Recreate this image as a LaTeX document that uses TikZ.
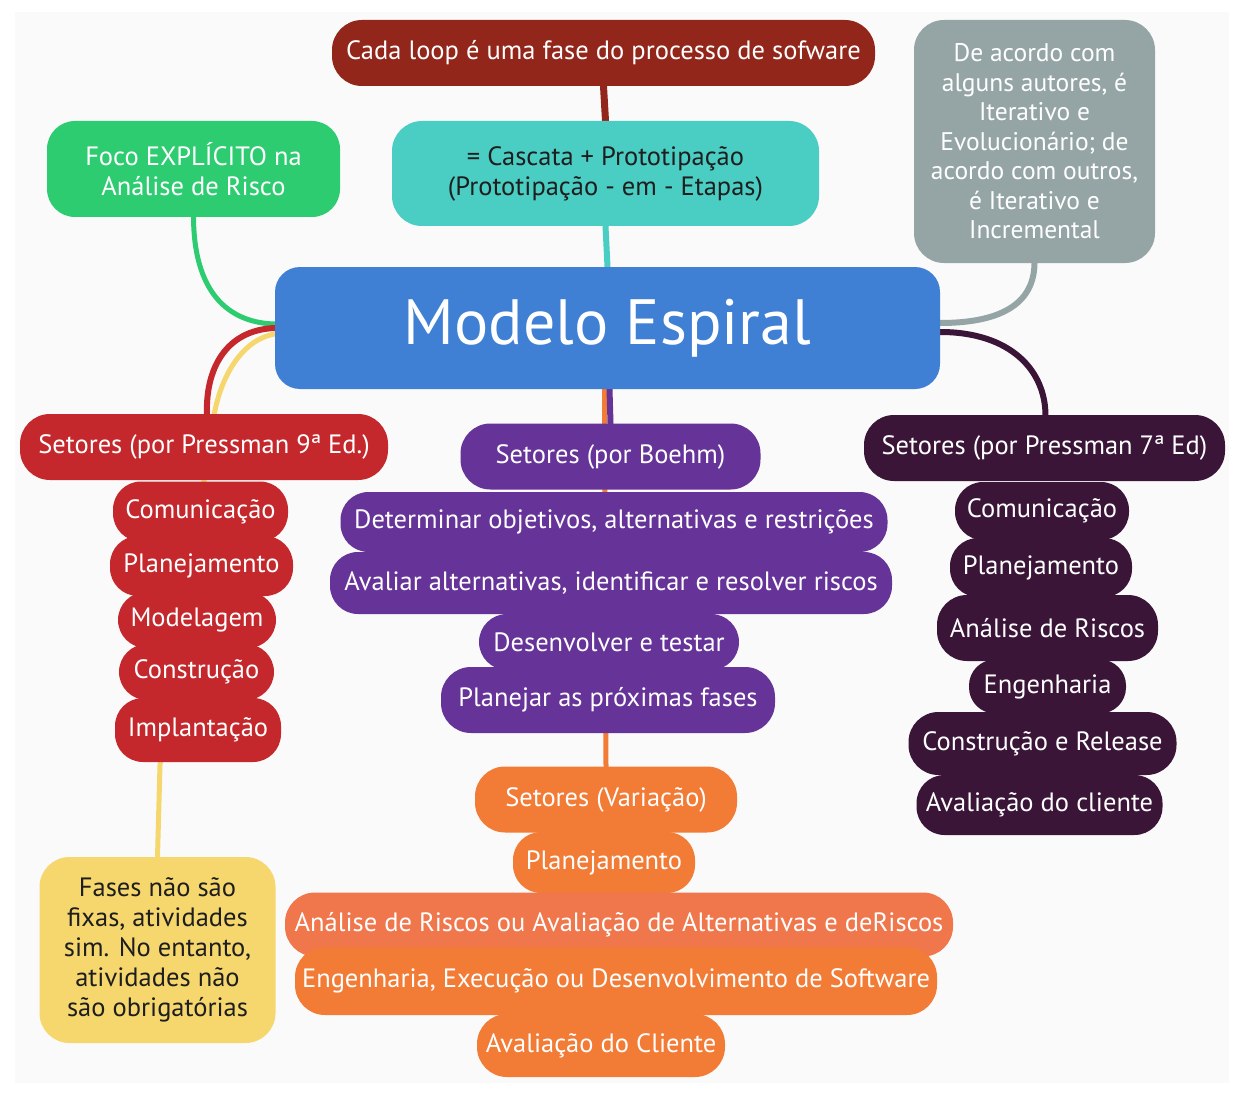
\documentclass[tikz,border=0pt]{standalone}
\usepackage{fontspec}
\setmainfont{PT Sans}
\usetikzlibrary{calc}
\definecolor{cBg}{HTML}{FAFAFA}
\definecolor{cLoop}{HTML}{92261A}
\definecolor{cTeal}{HTML}{4ACDC2}
\definecolor{cGreen}{HTML}{2ECC71}
\definecolor{cGray}{HTML}{95A5A6}
\definecolor{cBlue}{HTML}{3F80D5}
\definecolor{cRed}{HTML}{C4282C}
\definecolor{cPurple}{HTML}{663399}
\definecolor{cDark}{HTML}{3A1538}
\definecolor{cOrange}{HTML}{F27B35}
\definecolor{cSalmon}{HTML}{F0764C}
\definecolor{cYellow}{HTML}{F5D76E}
\definecolor{cInk}{HTML}{1E1E1E}
\pgfdeclarelayer{bg}
\pgfdeclarelayer{edges}
\pgfsetlayers{bg,edges,main}
\tikzset{
  box/.style={fill=#1, rounded corners=28pt, inner sep=0pt, text=white, align=center,
    font=\fontsize{26.5}{30}\selectfont},
  link/.style={draw=#1, line width=6pt, line cap=round},
}
\begin{document}
\begin{tikzpicture}[x=1pt,y=-1pt]
\useasboundingbox (0,0) rectangle (1242,1094);
\begin{pgfonlayer}{bg}
\fill[white] (0,0) rectangle (1242,1094);
\fill[cBg] (15,12) rectangle (1229,1083);
\end{pgfonlayer}

% top
\node[box=cLoop, minimum width=543pt, minimum height=66pt, rounded corners=30pt] (loop) at (603.5,53) {Cada loop é uma fase do processo de sofware};
\node[box=cTeal, text=cInk, minimum width=427pt, minimum height=105pt, rounded corners=30pt] (proto) at (605.5,173.5) {= Cascata + Prototipação\\(Prototipação - em - Etapas)};
\node[box=cGreen, minimum width=293pt, minimum height=96pt, rounded corners=28pt] (foco) at (193.5,169) {Foco EXPLÍCITO na\\Análise de Risco};
\node[box=cGray, minimum width=241pt, minimum height=243pt, rounded corners=30pt, font=\fontsize{25.5}{29.5}\selectfont] (autores) at (1034.5,141.5) {De acordo com\\alguns autores, é\\Iterativo e\\Evolucionário; de\\acordo com outros,\\é Iterativo e\\Incremental};
\node[box=cBlue, minimum width=665pt, minimum height=122pt, rounded corners=25pt, font=\fontsize{64}{70}\selectfont] (modelo) at (607.5,328) {Modelo Espiral};

% Pressman 9
\node[box=cRed, minimum width=368pt, minimum height=66pt, rounded corners=30pt] (pnove) at (204,447) {Setores (por Pressman 9ª Ed.)};
\node[box=cRed, minimum width=175pt, minimum height=60pt] (pnoveA) at (200.5,511.5) {Comunicação};
\node[box=cRed, minimum width=183pt, minimum height=60pt] (pnoveB) at (201.5,566) {Planejamento};
\node[box=cRed, minimum width=158pt, minimum height=56pt] (pnoveC) at (197,620) {Modelagem};
\node[box=cRed, minimum width=155pt, minimum height=56pt] (pnoveD) at (196.5,672) {Construção};
\node[box=cRed, minimum width=166pt, minimum height=64pt] (pnoveE) at (198,730) {Implantação};

% Boehm
\node[box=cPurple, minimum width=300pt, minimum height=66pt, rounded corners=30pt] (boehm) at (610.5,456.5) {Setores (por Boehm)};
\node[box=cPurple, minimum width=547pt, minimum height=60pt] (boehmA) at (614,522) {Determinar objetivos, alternativas e restrições};
\node[box=cPurple, minimum width=562pt, minimum height=62pt] (boehmB) at (611,583) {Avaliar alternativas, identificar e resolver riscos};
\node[box=cPurple, minimum width=260pt, minimum height=56pt] (boehmC) at (609,642) {Desenvolver e testar};
\node[box=cPurple, minimum width=334pt, minimum height=66pt, rounded corners=30pt] (boehmD) at (608,700) {Planejar as próximas fases};

% Pressman 7
\node[box=cDark, minimum width=361pt, minimum height=66pt, rounded corners=30pt] (psete) at (1044.5,448) {Setores (por Pressman 7ª Ed)};
\node[box=cDark, minimum width=174pt, minimum height=58pt] (pseteA) at (1042,511) {Comunicação};
\node[box=cDark, minimum width=182pt, minimum height=59pt] (pseteB) at (1041,567.5) {Planejamento};
\node[box=cDark, minimum width=221pt, minimum height=66pt, rounded corners=30pt] (pseteC) at (1047.5,628) {Análise de Riscos};
\node[box=cDark, minimum width=157pt, minimum height=54pt, rounded corners=26pt] (pseteD) at (1047.5,686.5) {Engenharia};
\node[box=cDark, minimum width=268pt, minimum height=63pt, rounded corners=30pt] (pseteE) at (1042.5,743.5) {Construção e Release};
\node[box=cDark, minimum width=246pt, minimum height=60pt] (pseteF) at (1039.5,805) {Avaliação do cliente};

% Variacao
\node[box=cOrange, minimum width=262pt, minimum height=66pt, rounded corners=30pt] (var) at (606,799.5) {Setores (Variação)};
\node[box=cOrange, minimum width=182pt, minimum height=61pt] (varA) at (604,862.5) {Planejamento};
\node[box=cSalmon, minimum width=668pt, minimum height=64pt, rounded corners=30pt] (varB) at (619,924.5) {Análise de Riscos ou Avaliação de Alternativas e deRiscos};
\node[box=cOrange, minimum width=642pt, minimum height=68pt, rounded corners=30pt] (varC) at (616,981) {Engenharia, Execução ou Desenvolvimento de Software};
\node[box=cOrange, minimum width=248pt, minimum height=63pt, rounded corners=30pt] (varD) at (601,1045.5) {Avaliação do Cliente};

% yellow
\node[box=cYellow, text=cInk, minimum width=236pt, minimum height=186pt, rounded corners=30pt] (fases) at (157.5,950) {Fases não são\\fixas, atividades\\sim. No entanto,\\atividades não\\são obrigatórias};

\coordinate (yb) at (160,765);

\begin{pgfonlayer}{edges}
\draw[link=cLoop, line width=7pt] (loop.south) -- (proto.north);
\draw[link=cTeal] (proto.south) -- (modelo.north);
\draw[link=cGreen, line width=5pt] (foco.south) .. controls (194,300) and (235,323) .. ($(modelo.west)+(0,-4)$);
\draw[link=cYellow, line width=5pt] ($(modelo.west)+(0,6)$) .. controls (240,340) and (220,380) .. ($(pnove.north)+(10,2)$) -- (yb) -- (fases.north);
\draw[link=cRed] ($(modelo.west)+(0,0)$) .. controls (225,330) and (205,370) .. ($(pnove.north)+(3,2)$);
\draw[link=cGray] (autores.south) .. controls (1034,310) and (990,323) .. ($(modelo.east)+(0,-5)$);
\draw[link=cDark] ($(modelo.east)+(0,4)$) .. controls (1010,332) and (1046,370) .. ($(psete.north)+(1,2)$);
\draw[link=cOrange, line width=5pt] ($(modelo.south)+(-3,0)$) -- (var.north);
\draw[link=cPurple] ($(modelo.south)+(2,0)$) -- (boehm.north);
\end{pgfonlayer}
\end{tikzpicture}
\end{document}
